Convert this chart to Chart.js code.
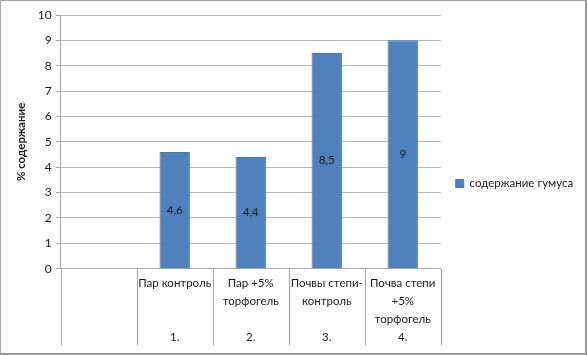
<!DOCTYPE html>
<html>
<head>
<meta charset="utf-8">
<script src="https://cdn.jsdelivr.net/npm/chart.js@4.4.1/dist/chart.umd.min.js"></script>
<style>
  html, body { margin: 0; padding: 0; background: #fff; }
  #wrap { width: 587px; height: 355px; box-sizing: border-box; border: 1px solid #a6a6a6; border-right: 2px solid #9a9a9a; border-bottom: 2px solid #9a9a9a; position: relative; }
</style>
</head>
<body>
<div id="wrap"><canvas id="myChart"></canvas></div>
<script>
// categories (first slot left empty as in the source sheet)
const categories = ['', 'Пар контроль', 'Пар +5% торфогель', 'Почвы степи-контроль', 'Почва степи +5% торфогель'];
const catLines = [
    ['', '', '', ''],
    ['Пар контроль', '', '', '1.'],
    ['Пар +5%', 'торфогель', '', '2.'],
    ['Почвы степи-', 'контроль', '', '3.'],
    ['Почва степи', '+5%', 'торфогель', '4.']];
const humus = [null, 4.6, 4.4, 8.5, 9];
const seriesName = 'содержание гумуса';
const yTitle = '% содержание';

const FONT = 'Lato';
const FS = 11.5;
const BAR = '#4f81bd';

// vertical separators under the axis + y axis continuation
const dividers = {
    id: 'dividers',
    afterDraw(chart) {
        const c = chart.ctx, x = chart.scales.x, a = chart.chartArea;
        const bottom = 344;
        c.save();
        c.strokeStyle = '#a6a6a6';
        c.lineWidth = 1;
        for (let i = 0; i <= categories.length; i++) {
            const px = Math.round(x.left + (x.right - x.left) * i / categories.length) + 0.5;
            c.beginPath();
            c.moveTo(px, a.bottom);
            c.lineTo(px, bottom);
            c.stroke();
        }
        c.restore();
    }
};

// value labels in the middle of each bar
const barLabels = {
    id: 'barLabels',
    afterDatasetsDraw(chart) {
        const c = chart.ctx;
        const meta = chart.getDatasetMeta(0);
        c.save();
        c.font = FS + 'px ' + FONT;
        c.fillStyle = '#1a1a1a';
        c.textAlign = 'center';
        c.textBaseline = 'middle';
        meta.data.forEach((bar, i) => {
            const v = humus[i];
            if (v == null) return;
            c.fillText(String(v).replace('.', ','), bar.x, (bar.y + bar.base) / 2);
        });
        c.restore();
    }
};

const ctx = document.getElementById('myChart').getContext('2d');
const chart = new Chart(ctx, {
    type: 'bar',
    data: {
        labels: catLines,
        datasets: [{
            label: seriesName,
            data: humus,
            backgroundColor: BAR,
            borderColor: '#4a7ab3',
            borderWidth: 1,
            categoryPercentage: 1,
            barPercentage: 0.4,
        }]
    },
    options: {
        responsive: true,
        maintainAspectRatio: false,
        animation: false,
        layout: { padding: { top: 14, right: 2, bottom: 1, left: 13 } },
        scales: {
            x: {
                grid: { display: false, drawTicks: false },
                border: { color: '#a6a6a6' },
                ticks: {
                    color: '#1a1a1a',
                    font: { family: FONT, size: FS, lineHeight: 1.55 },
                    padding: 6,
                    maxRotation: 0,
                    autoSkip: false,
                },
            },
            y: {
                min: 0,
                max: 10,
                ticks: {
                    stepSize: 1,
                    color: '#1a1a1a',
                    font: { family: FONT, size: 12 },
                    padding: 4,
                },
                grid: { color: '#b5b5b5', tickLength: 5, tickColor: '#a6a6a6' },
                border: { color: '#a6a6a6' },
                title: {
                    display: true,
                    text: yTitle,
                    color: '#1a1a1a',
                    font: { family: FONT, size: FS, weight: 'bold' },
                    padding: { top: 0, bottom: 6 },
                },
            },
        },
        plugins: {
            legend: {
                position: 'right',
                labels: {
                    boxWidth: 8,
                    boxHeight: 8,
                    color: '#1a1a1a',
                    font: { family: FONT, size: FS },
                    padding: 15,
                },
            },
            tooltip: { enabled: false },
        },
    },
    plugins: [dividers, barLabels],
});
</script>
</body>
</html>
